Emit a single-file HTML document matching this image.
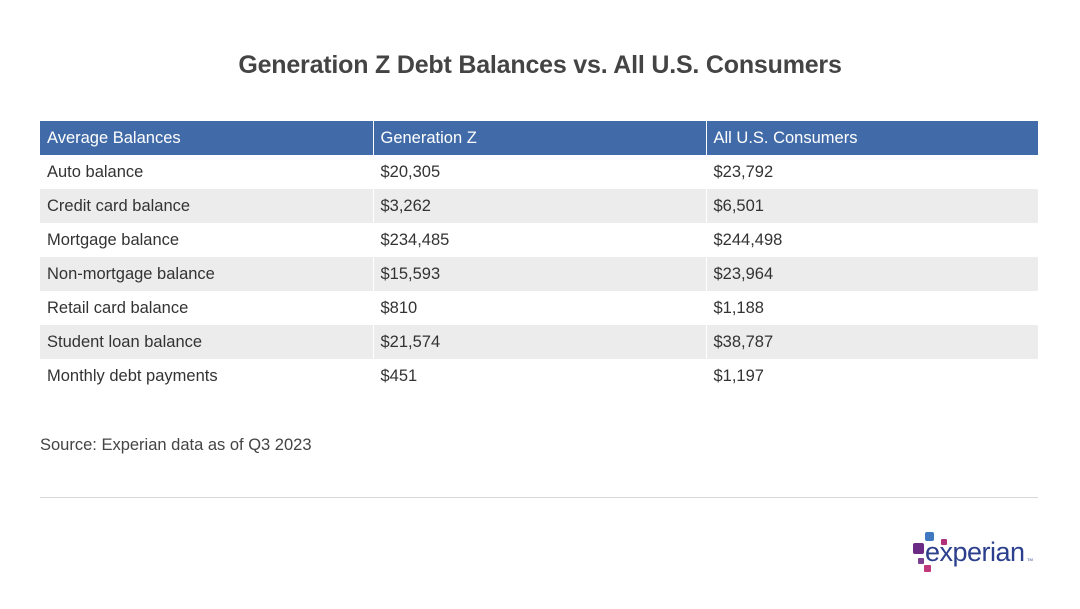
<!DOCTYPE html>
<html><head><meta charset="utf-8">
<style>
body{margin:0;width:1080px;height:609px;background:#fff;font-family:"Liberation Sans",Arial,sans-serif;position:relative;overflow:hidden;color:#333}
#title{position:absolute;top:51px;left:0;width:1080px;text-align:center;font-size:25px;font-weight:bold;color:#444;letter-spacing:-0.2px}
table{position:absolute;left:40px;top:121px;width:998px;border-collapse:collapse;font-size:16.5px}
td,th{height:34px;padding:1px 0 0 7px;text-align:left;font-weight:normal;border-left:1px solid #fff;box-sizing:border-box}
td:first-child,th:first-child{border-left:none}
th{background:#416ba8;color:#fff}
tr:nth-child(odd) td{background:#ececec}
#src{position:absolute;left:40px;top:436px;font-size:16.5px;color:#444}
#rule{position:absolute;left:40px;top:497px;width:998px;height:1px;background:#d8d8d8}
</style></head><body>
<div id="title">Generation Z Debt Balances vs. All U.S. Consumers</div>
<table>
<tr><th style="width:333px">Average Balances</th><th style="width:333px">Generation Z</th><th>All U.S. Consumers</th></tr>
<tr><td>Auto balance</td><td>$20,305</td><td>$23,792</td></tr>
<tr><td>Credit card balance</td><td>$3,262</td><td>$6,501</td></tr>
<tr><td>Mortgage balance</td><td>$234,485</td><td>$244,498</td></tr>
<tr><td>Non-mortgage balance</td><td>$15,593</td><td>$23,964</td></tr>
<tr><td>Retail card balance</td><td>$810</td><td>$1,188</td></tr>
<tr><td>Student loan balance</td><td>$21,574</td><td>$38,787</td></tr>
<tr><td>Monthly debt payments</td><td>$451</td><td>$1,197</td></tr>
</table>
<div id="src">Source: Experian data as of Q3 2023</div>
<div id="rule"></div>
<svg style="position:absolute;left:905px;top:528px" width="135" height="50">
<rect x="20" y="4" width="9" height="9" rx="2" fill="#3f78c0"/>
<rect x="36" y="11" width="6" height="6" rx="1" fill="#b2307a"/>
<rect x="8" y="15" width="11" height="11" rx="2" fill="#6b2a83"/>
<rect x="13" y="30" width="6" height="6" rx="1" fill="#7b3f8f"/>
<rect x="19" y="37" width="7" height="7" rx="1" fill="#c0377c"/>
<text x="20" y="33" font-family="Liberation Sans,sans-serif" font-size="27" fill="#2b3f8c" textLength="100">experian</text>
<text x="122" y="33" font-family="Liberation Sans,sans-serif" font-size="4" fill="#2b3f8c">TM</text>
</svg>
</body></html>
